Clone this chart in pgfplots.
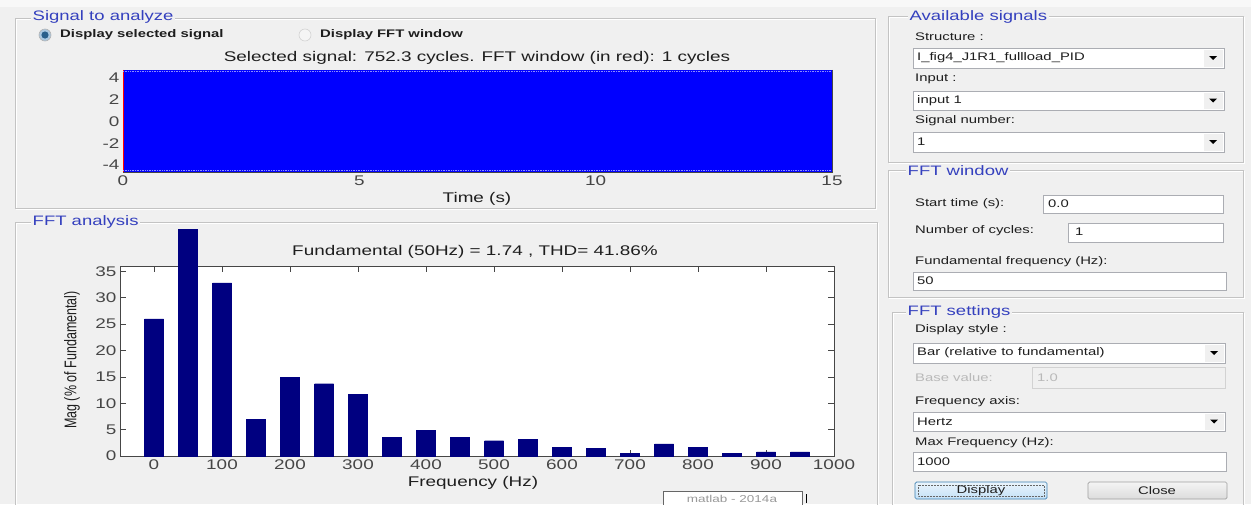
\documentclass[border=0pt]{standalone}
\usepackage{pgfplots}
\pgfplotsset{compat=1.18}
\usepackage{fontspec}
\setmainfont{Liberation Sans}[FakeStretch=1.35]
\newfontfamily\rotfont{Liberation Sans}[FakeStretch=0.74]
\definecolor{bg}{RGB}{240,240,240}
\definecolor{grp}{RGB}{52,64,190}
\definecolor{frm}{RGB}{195,195,195}
\definecolor{fld}{RGB}{171,173,179}
\definecolor{navybar}{RGB}{0,0,128}
\definecolor{sigblue}{RGB}{0,0,255}
\definecolor{txt}{RGB}{30,30,30}
\definecolor{tickc}{RGB}{70,70,70}
\definecolor{axc}{RGB}{70,70,70}
\definecolor{btnblue}{RGB}{60,127,177}
\definecolor{radiodot}{RGB}{40,95,140}
\definecolor{radioring}{RGB}{170,200,225}
\definecolor{btntop}{RGB}{234,244,252}
\definecolor{btnbot}{RGB}{196,225,247}
\definecolor{gtop}{RGB}{244,244,244}
\definecolor{gbot}{RGB}{220,220,220}
\newcommand{\fA}{\fontsize{14}{16}\selectfont}
\newcommand{\fG}{\fontsize{13.7}{16}\selectfont}
\newcommand{\fS}{\fontsize{11}{13}\selectfont}
\newcommand{\gframe}[4]{%
  \draw[white, line width=0.8pt] ({#1+1},{#2+1}) rectangle ({#3+1},{#4+1});
  \draw[frm, line width=0.8pt] (#1,#2) rectangle (#3,#4);}
\newcommand{\dropdown}[4]{%
  \draw[fld, fill=white, line width=0.6pt] (#1,#2) rectangle (#3,#4);
  \fill[bg] ({#3-20},{#2+1.5}) rectangle ({#3-1.5},{#4-1.5});
  \fill[black] ({#3-15},{(#2+#4)/2-2}) -- ({#3-7},{(#2+#4)/2-2}) -- ({#3-11},{(#2+#4)/2+2}) -- cycle;}
\newcommand{\field}[4]{\draw[fld, fill=white, line width=0.6pt] (#1,#2) rectangle (#3,#4);}
\begin{document}
\begin{tikzpicture}
\useasboundingbox (0pt,0pt) rectangle (1251pt,-504pt);
\clip (0pt,0pt) rectangle (1251pt,-504pt);
\begin{scope}[x=1pt,y=-1pt]
  \fill[bg] (0,0) rectangle (1251,504);
  \fill[white!55!bg] (0,0) rectangle (1251,7);
  % group frames
  \gframe{15}{18}{875}{208}
  \gframe{15}{222}{877}{540}
  \gframe{888}{16}{1243}{162}
  \gframe{888}{170}{1243}{297}
  \gframe{892}{312}{1243}{540}
  % group titles
  \node[anchor=west, fill=bg, inner sep=1.5pt, text=grp, font=\fG] at (31,17) {Signal to analyze};
  \node[anchor=west, fill=bg, inner sep=1.5pt, text=grp, font=\fG] at (31,222) {FFT analysis};
  \node[anchor=west, fill=bg, inner sep=1.5pt, text=grp, font=\fG] at (908,17) {Available signals};
  \node[anchor=west, fill=bg, inner sep=1.5pt, text=grp, font=\fG] at (906,171) {FFT window};
  \node[anchor=west, fill=bg, inner sep=1.5pt, text=grp, font=\fG] at (906,312) {FFT settings};
  % radio buttons
  \draw[fill=radioring, draw=gray!60, line width=0.6pt] (45,35) circle (6);
  \fill[radiodot] (45,35) circle (3.6);
  \draw[fill=gray!8, draw=gray!35, line width=0.6pt] (305,35) circle (6);
  \node[anchor=west, font=\fS\bfseries, text=txt, inner sep=0pt] at (60,35) {Display selected signal};
  \node[anchor=west, font=\fS\bfseries, text=txt, inner sep=0pt] at (320,35) {Display FFT window};
  % right panel: available signals
  \node[anchor=west, font=\fS, text=txt, inner sep=0pt] at (915,37) {Structure :};
  \dropdown{913}{48}{1224}{68}
  \node[anchor=west, font=\fS, text=txt, inner sep=0pt] at (917,58) {I\_fig4\_J1R1\_fullload\_PID};
  \node[anchor=west, font=\fS, text=txt, inner sep=0pt] at (915,79) {Input :};
  \dropdown{913}{91}{1224}{110}
  \node[anchor=west, font=\fS, text=txt, inner sep=0pt] at (917,101) {input 1};
  \node[anchor=west, font=\fS, text=txt, inner sep=0pt] at (915,121) {Signal number:};
  \dropdown{913}{132}{1224}{152}
  \node[anchor=west, font=\fS, text=txt, inner sep=0pt] at (917,142) {1};
  % FFT window
  \node[anchor=west, font=\fS, text=txt, inner sep=0pt] at (915,204) {Start time (s):};
  \field{1043}{195}{1223}{213}
  \node[anchor=west, font=\fS, text=txt, inner sep=0pt] at (1048,204) {0.0};
  \node[anchor=west, font=\fS, text=txt, inner sep=0pt] at (915,231) {Number of cycles:};
  \field{1068}{223}{1223}{242}
  \node[anchor=west, font=\fS, text=txt, inner sep=0pt] at (1075,232) {1};
  \node[anchor=west, font=\fS, text=txt, inner sep=0pt] at (915,262) {Fundamental frequency (Hz):};
  \field{913}{272}{1226}{290}
  \node[anchor=west, font=\fS, text=txt, inner sep=0pt] at (917,281) {50};
  % FFT settings
  \node[anchor=west, font=\fS, text=txt, inner sep=0pt] at (915,330) {Display style :};
  \dropdown{913}{343}{1225}{363}
  \node[anchor=west, font=\fS, text=txt, inner sep=0pt] at (917,353) {Bar (relative to fundamental)};
  \node[anchor=west, font=\fS, text=gray!55, inner sep=0pt] at (915,378) {Base value:};
  \draw[gray!35, fill=bg, line width=0.6pt] (1032,367) rectangle (1225,388);
  \node[anchor=west, font=\fS, text=gray!55, inner sep=0pt] at (1037,378) {1.0};
  \node[anchor=west, font=\fS, text=txt, inner sep=0pt] at (915,402) {Frequency axis:};
  \dropdown{913}{412}{1225}{431}
  \node[anchor=west, font=\fS, text=txt, inner sep=0pt] at (917,422) {Hertz};
  \node[anchor=west, font=\fS, text=txt, inner sep=0pt] at (915,443) {Max Frequency (Hz):};
  \field{913}{452}{1226}{471}
  \node[anchor=west, font=\fS, text=txt, inner sep=0pt] at (917,462) {1000};
  % buttons
  \shade[top color=btntop, bottom color=btnbot, draw=btnblue, line width=0.7pt, rounded corners=1.5pt] (915,482) rectangle (1047,499);
  \draw[black!60, densely dotted, line width=0.5pt] (918,485) rectangle (1044,496);
  \node[font=\fS, text=txt] at (981,491) {Display};
  \shade[top color=gtop, bottom color=gbot, draw=gray!75, line width=0.7pt, rounded corners=1.5pt] (1088,482) rectangle (1227,499);
  \node[font=\fS, text=txt] at (1157,491) {Close};
\end{scope}

% ---------- upper axis: selected signal ----------
\begin{axis}[
  at={(123pt,-172pt)}, anchor=south west, scale only axis,
  width=709pt, height=102pt,
  xmin=0, xmax=15, ymin=-4.64, ymax=4.74,
  xtick={0,5,10,15}, ytick={-4,-2,0,2,4},
  axis background/.style={fill=white},
  axis line style={draw=axc, line width=0.5pt},
  tick style={draw=axc, line width=0.5pt},
  major tick length=5pt,
  tick label style={font=\fA, text=tickc},
  /pgf/number format/assume math mode=true,
]
\addplot[fill=sigblue, draw=none] coordinates {(0,-4.64) (15,-4.64) (15,4.74) (0,4.74)};
\addplot[fill=red, draw=none] coordinates {(0,-4.64) (0.02,-4.64) (0.02,4.74) (0,4.74)};
\addplot[white!55!sigblue, densely dotted, line width=0.7pt] coordinates {(0,4.62) (15,4.62)};
\addplot[white!55!sigblue, densely dotted, line width=0.7pt] coordinates {(0,-4.52) (15,-4.52)};
\end{axis}

% ---------- lower axis: FFT bars ----------
\begin{scope}
\clip (0pt,-229pt) rectangle (1251pt,-504pt);
\begin{axis}[
  at={(120pt,-456pt)}, anchor=south west, scale only axis,
  width=714pt, height=190pt,
  xmin=-50, xmax=1000, ymin=0, ymax=36,
  xtick={0,100,...,1000}, ytick={0,5,...,35},
  clip=false,
  axis background/.style={fill=white},
  axis line style={draw=axc, line width=0.6pt},
  tick style={draw=axc, line width=0.6pt},
  major tick length=6pt,
  tick label style={font=\fA, text=tickc},
  /pgf/number format/assume math mode=true,
  /pgf/number format/1000 sep={},
]
\addplot[ybar, bar width=19pt, fill=navybar, draw=navybar] coordinates {
  (0,26.0) (50,100) (100,32.8) (150,7.0) (200,14.9) (250,13.7) (300,11.7)
  (350,3.5) (400,4.9) (450,3.5) (500,2.9) (550,3.2) (600,1.6) (650,1.4)
  (700,0.5) (750,2.3) (800,1.6) (850,0.5) (900,0.8) (950,0.8)};
\end{axis}
\end{scope}

% ---------- axis texts and overlays ----------
\begin{scope}[x=1pt,y=-1pt]
  \node[font=\fA, text=txt] at (477,58) {Selected signal: 752.3 cycles. FFT window (in red): 1 cycles};
  \node[font=\fA, text=txt] at (477,199) {Time (s)};
  \node[font=\fA, text=txt] at (475,252) {Fundamental (50Hz) = 1.74 , THD= 41.86\%};
  \node[font=\fA, text=txt] at (473,483) {Frequency (Hz)};
  \node[rotate=90, font=\rotfont\fontsize{16.9}{18}\selectfont, text=txt] at (72,360) {Mag (\% of Fundamental)};
  % tooltip
  \draw[fill=white, draw=gray!80!black, line width=0.6pt] (663,491) rectangle (802,515);
  \node[font=\fontsize{10}{12}\selectfont, text=gray!80] at (732,498.5) {matlab - 2014a};
  \draw[black, line width=0.6pt] (806,494) -- (806,503);
\end{scope}
\end{tikzpicture}
\end{document}
